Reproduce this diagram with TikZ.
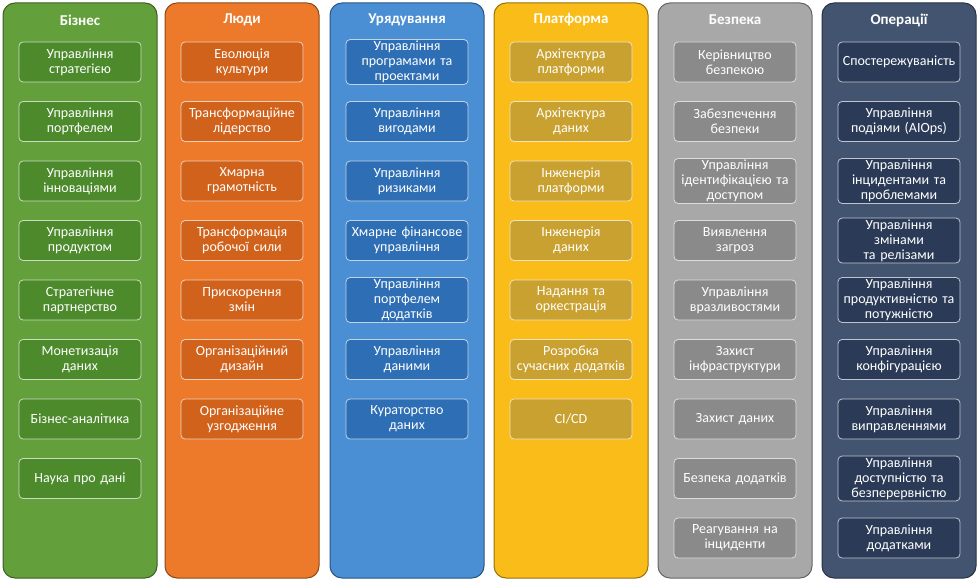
\documentclass[tikz,border=0pt]{standalone}
\usepackage{fontspec}
\setmainfont{Carlito}
\begin{document}
\begin{tikzpicture}[x=1pt,y=-1pt,
 col/.style={draw=#1!60!black,line width=1pt,rounded corners=12pt,fill=#1},
 hdr/.style={text=white,font=\fontsize{15}{17}\selectfont\bfseries},
 box/.style={draw=white!70!#1,line width=0.8pt,rounded corners=4pt,fill=#1,inner sep=1.5pt,minimum width=122pt,minimum height=40pt,text width=119pt,align=center,text=white,font=\fontsize{14}{15}\selectfont}]
\useasboundingbox (0,0) rectangle (977,583);
\definecolor{cA}{HTML}{63A03C}\definecolor{bA}{HTML}{4C8A2C}
\definecolor{cB}{HTML}{EC7A2A}\definecolor{bB}{HTML}{D1621C}
\definecolor{cC}{HTML}{4A8ED4}\definecolor{bC}{HTML}{2E6EB4}
\definecolor{cD}{HTML}{FABC18}\definecolor{bD}{HTML}{C9A130}
\definecolor{cE}{HTML}{A8A8A8}\definecolor{bE}{HTML}{8A8A8A}
\definecolor{cF}{HTML}{435470}\definecolor{bF}{HTML}{2B3B57}
\foreach \cx/\cc/\bc/\t/\items [count=\i] in {
 80/cA/bA/Бізнес/{Управління\\стратегією,Управління\\портфелем,Управління\\інноваціями,Управління\\продуктом,Стратегічне\\партнерство,Монетизація\\даних,Бізнес-аналітика,Наука про дані},
 242/cB/bB/Люди/{Еволюція\\культури,Трансформаційне\\лідерство,Хмарна\\грамотність,Трансформація\\робочої сили,Прискорення\\змін,Організаційний\\дизайн,Організаційне\\узгодження},
 407/cC/bC/Урядування/{Управління\\програмами та\\проектами,Управління\\вигодами,Управління\\ризиками,Хмарне фінансове\\управління,Управління\\портфелем\\додатків,Управління\\даними,Кураторство\\даних},
 571/cD/bD/Платформа/{Архітектура\\платформи,Архітектура\\даних,Інженерія\\платформи,Інженерія\\даних,Надання та\\оркестрація,Розробка\\сучасних додатків,CI/CD},
 735/cE/bE/Безпека/{Керівництво\\безпекою,Забезпечення\\безпеки,Управління\\ідентифікацією та\\доступом,Виявлення\\загроз,Управління\\вразливостями,Захист\\інфраструктури,Захист даних,Безпека додатків,Реагування на\\інциденти},
 899/cF/bF/Операції/{Спостережуваність,Управління\\подіями (AIOps),Управління\\інцидентами та\\проблемами,Управління змінами\\та релізами,Управління\\продуктивністю та\\потужністю,Управління\\конфігурацією,Управління\\виправленнями,Управління\\доступністю та\\безперервністю,Управління\\додатками}}{
 \fill[col=\cc] (\cx-77,3) rectangle (\cx+77,578);
 \node[hdr] (h\i) at (\cx,20) {\t};
 \foreach \s [count=\j] in \items {
  \node[box=\bc] (b\i-\j) at (\cx,{62+59.5*(\j-1)}) {\s};
 }
}
\end{tikzpicture}
\end{document}
